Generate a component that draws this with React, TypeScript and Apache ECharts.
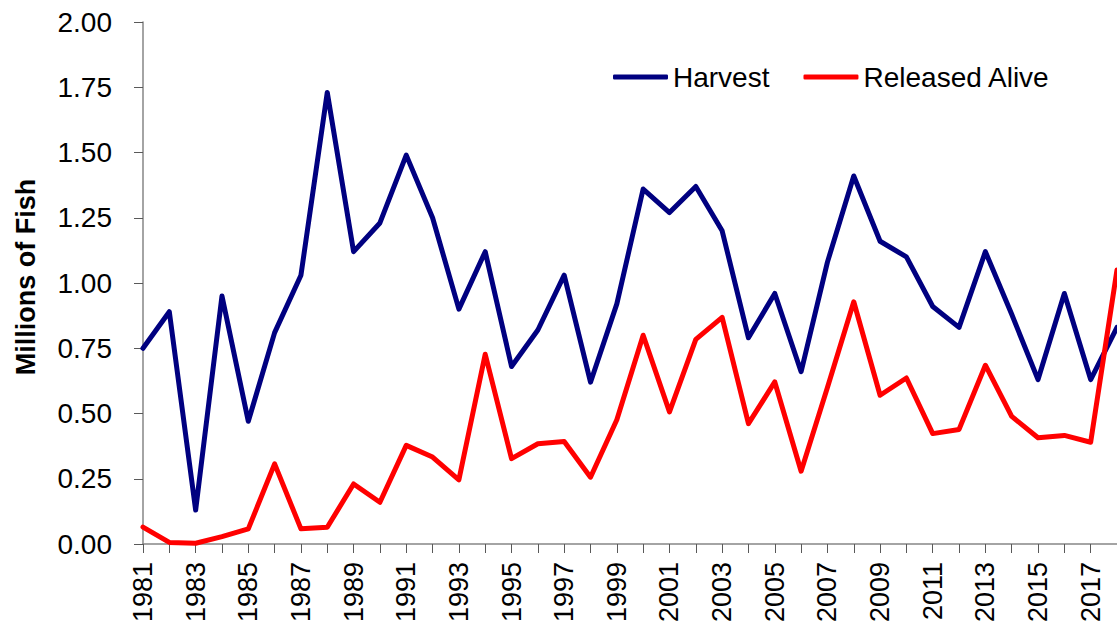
import React, { useEffect, useRef } from "react";
import * as echarts from "echarts";

const years: string[] = [];
for (let y = 1981; y <= 2018; y++) years.push(String(y));

const harvest = [
  0.75, 0.89, 0.13, 0.95, 0.47, 0.81, 1.03, 1.73, 1.12, 1.23,
  1.49, 1.25, 0.9, 1.12, 0.68, 0.82, 1.03, 0.62, 0.92, 1.36,
  1.27, 1.37, 1.2, 0.79, 0.96, 0.66, 1.08, 1.41, 1.16, 1.1,
  0.91, 0.83, 1.12, 0.88, 0.63, 0.96, 0.63, 0.83,
];

const releasedAlive = [
  0.065, 0.006, 0.003, 0.028, 0.058, 0.307, 0.058, 0.064, 0.23, 0.16,
  0.378, 0.333, 0.246, 0.727, 0.327, 0.384, 0.393, 0.256, 0.476, 0.8,
  0.506, 0.784, 0.868, 0.461, 0.621, 0.279, 0.6, 0.928, 0.57, 0.636,
  0.423, 0.439, 0.685, 0.489, 0.407, 0.416, 0.39, 1.05,
];

const FONT = "Liberation Sans";

export default function App() {
  const ref = useRef<HTMLDivElement>(null);
  useEffect(() => {
    document.body.style.margin = "0";
    const chart = echarts.init(ref.current!, null, { renderer: "svg" });
    chart.setOption({
      animation: false,
      backgroundColor: "#ffffff",
      grid: { left: 143, width: 978, top: 22, bottom: 87, containLabel: false },
      legend: {
        left: 613,
        top: 63,
        padding: 0,
        icon: "roundRect",
        itemWidth: 55,
        itemHeight: 5,
        itemGap: 34,
        textStyle: { fontFamily: FONT, fontSize: 28, color: "#000" },
        data: ["Harvest", "Released Alive"],
      },
      xAxis: {
        type: "category",
        data: years,
        boundaryGap: false,
        axisLine: { lineStyle: { color: "#868686", width: 1.5 } },
        axisTick: { show: true, interval: 0, length: 9, lineStyle: { color: "#595959" } },
        axisLabel: {
          interval: 1,
          rotate: 90,
          margin: 18,
          fontFamily: FONT,
          fontSize: 27,
          color: "#000",
        },
        splitLine: { show: false },
      },
      yAxis: {
        type: "value",
        min: 0,
        max: 2,
        interval: 0.25,
        name: "Millions of Fish",
        nameLocation: "middle",
        nameGap: 104,
        nameTextStyle: {
          fontFamily: FONT,
          fontSize: 27,
          fontWeight: "bold",
          color: "#000",
          padding: [0, 0, 0, 12],
        },
        axisLine: { show: true, lineStyle: { color: "#868686", width: 1.5 } },
        axisTick: { show: true, length: 9, lineStyle: { color: "#595959" } },
        axisLabel: {
          margin: 31,
          fontFamily: FONT,
          fontSize: 28,
          color: "#000",
          formatter: (v: number) => v.toFixed(2),
        },
        splitLine: { show: false },
      },
      series: [
        {
          name: "Harvest",
          type: "line",
          data: harvest,
          symbol: "none",
          color: "#000080",
          lineStyle: { color: "#000080", width: 5, cap: "round", join: "round" },
        },
        {
          name: "Released Alive",
          type: "line",
          data: releasedAlive,
          symbol: "none",
          color: "#ff0000",
          lineStyle: { color: "#ff0000", width: 5, cap: "round", join: "round" },
        },
      ],
    });
    return () => chart.dispose();
  }, []);
  return <div ref={ref} style={{ width: 1117, height: 631 }} />;
}
